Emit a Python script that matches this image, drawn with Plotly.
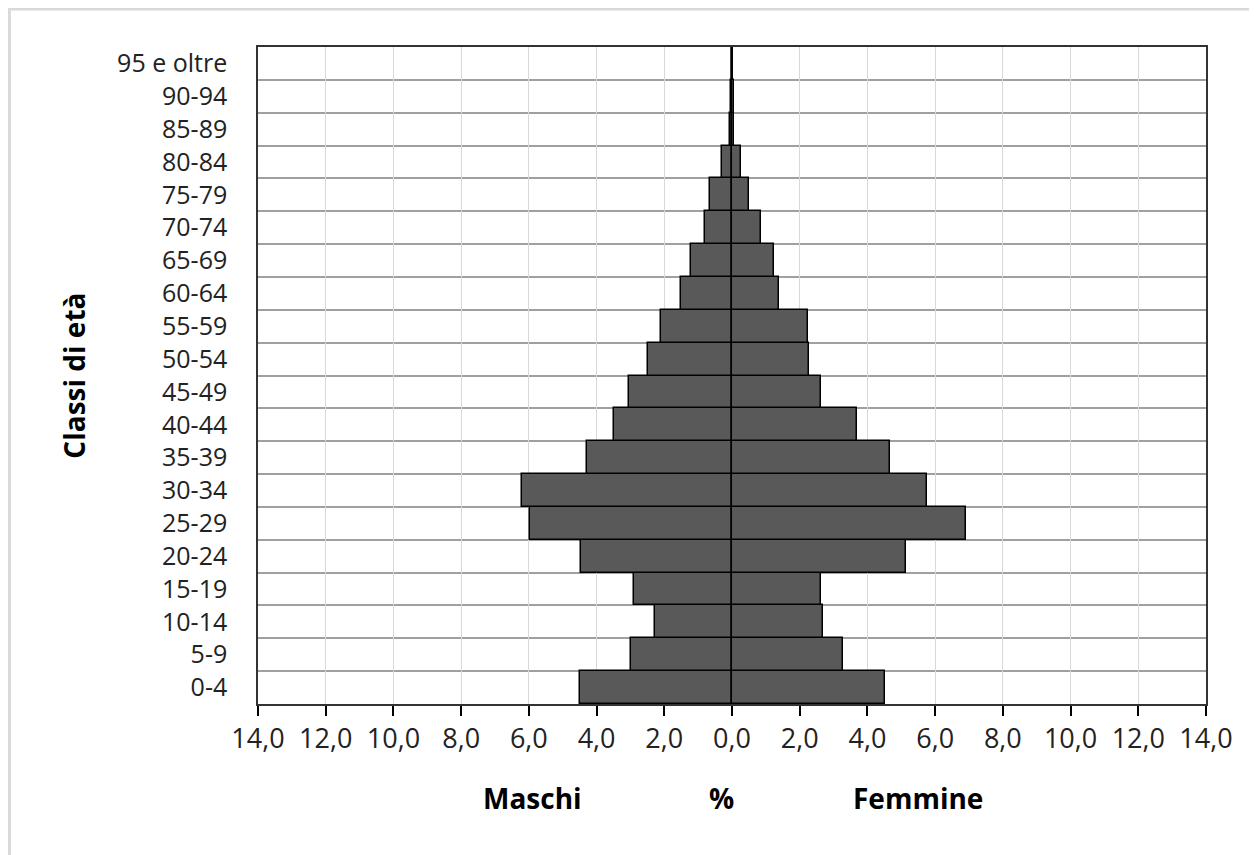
import plotly.graph_objects as go

# Piramide delle età: quote percentuali per classe
age_classes = ["0-4", "5-9", "10-14", "15-19", "20-24", "25-29", "30-34", "35-39",
               "40-44", "45-49", "50-54", "55-59", "60-64", "65-69", "70-74",
               "75-79", "80-84", "85-89", "90-94", "95 e oltre"]
maschi = [4.48, 2.99, 2.28, 2.89, 4.45, 5.98, 6.19, 4.29, 3.50, 3.04,
          2.49, 2.10, 1.50, 1.20, 0.81, 0.66, 0.30, 0.07, 0.02, 0.0]
femmine = [4.53, 3.28, 2.68, 2.63, 5.13, 6.92, 5.77, 4.68, 3.68, 2.64,
           2.27, 2.24, 1.39, 1.24, 0.85, 0.50, 0.26, 0.07, 0.07, 0.0]

x_tick_vals = [-14, -12, -10, -8, -6, -4, -2, 0, 2, 4, 6, 8, 10, 12, 14]
x_tick_text = ["14,0", "12,0", "10,0", "8,0", "6,0", "4,0", "2,0", "0,0",
               "2,0", "4,0", "6,0", "8,0", "10,0", "12,0", "14,0"]

FONT = "Open Sans"
BAR = "#595959"
pos = list(range(len(age_classes)))

fig = go.Figure()
fig.add_trace(go.Bar(
    y=pos, x=[-v for v in maschi], orientation="h", name="Maschi",
    marker=dict(color=BAR, line=dict(color="black", width=1.5)),
))
fig.add_trace(go.Bar(
    y=pos, x=femmine, orientation="h", name="Femmine",
    marker=dict(color=BAR, line=dict(color="black", width=1.5)),
))

fig.update_xaxes(
    range=[-14, 14], tickvals=x_tick_vals, ticktext=x_tick_text,
    showgrid=True, gridcolor="#d9d9d9", gridwidth=1,
    zeroline=True, zerolinecolor="black", zerolinewidth=1.5,
    ticks="outside", ticklen=10, tickcolor="black", tickwidth=1.5,
    showline=True, mirror=True, linecolor="#333333", linewidth=1.5,
    tickfont=dict(family=FONT, size=27, color="#222222"),
    fixedrange=True,
)
fig.update_yaxes(
    range=[-0.5, len(age_classes) - 0.5], tickvals=pos, ticktext=age_classes,
    showgrid=False, zeroline=False, ticks="", ticklabelstandoff=24,
    minor=dict(tickmode="array", tickvals=[p - 0.5 for p in pos],
               showgrid=True, gridcolor="#a0a0a0", gridwidth=2, ticks=""),
    showline=True, mirror=True, linecolor="#333333", linewidth=1.5,
    tickfont=dict(family=FONT, size=25, color="#222222"),
    fixedrange=True,
)

title_font = dict(family=FONT, size=28, color="black")
fig.add_annotation(text="<b>Maschi</b>", x=-5.9, y=-0.143, xref="x", yref="paper",
                   showarrow=False, font=title_font, xanchor="center", yanchor="middle")
fig.add_annotation(text="<b>%</b>", x=-0.3, y=-0.143, xref="x", yref="paper",
                   showarrow=False, font=title_font, xanchor="center", yanchor="middle")
fig.add_annotation(text="<b>Femmine</b>", x=5.5, y=-0.143, xref="x", yref="paper",
                   showarrow=False, font=title_font, xanchor="center", yanchor="middle")
fig.add_annotation(text="<b>Classi di età</b>", x=-0.195, y=0.5, xref="paper", yref="paper",
                   showarrow=False, font=title_font, textangle=-90,
                   xanchor="center", yanchor="middle")

# cornice grigia dell'immagine originale
fig.add_shape(type="line", xref="paper", yref="paper", x0=-0.27, x1=1.07, y0=1.058, y1=1.058,
              line=dict(color="#d9d9d9", width=3))
fig.add_shape(type="line", xref="paper", yref="paper", x0=-0.2622, x1=-0.2622, y0=1.058, y1=-0.25,
              line=dict(color="#d9d9d9", width=3))

fig.update_layout(
    width=1257, height=855,
    margin=dict(l=250, r=59, t=39, b=159),
    barmode="relative", bargap=0,
    showlegend=False,
    plot_bgcolor="white", paper_bgcolor="white",
)

fig.write_html("out.html")
